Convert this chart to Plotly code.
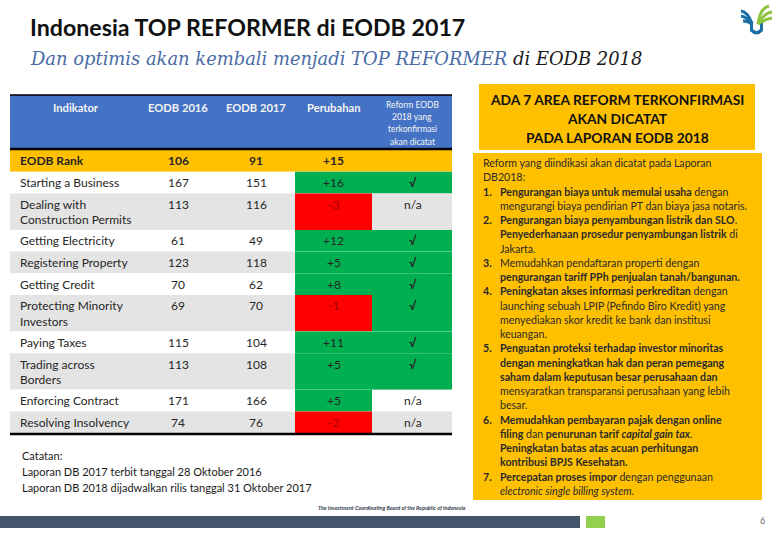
import plotly.graph_objects as go

# ---------------- data ----------------
indicators = ["EODB Rank", "Starting a Business", "Dealing with<br>Construction Permits",
              "Getting Electricity", "Registering Property", "Getting Credit",
              "Protecting Minority<br>Investors", "Paying Taxes", "Trading across<br>Borders",
              "Enforcing Contract", "Resolving Insolvency"]
eodb_2016 = [106, 167, 113, 61, 123, 70, 69, 115, 113, 171, 74]
eodb_2017 = [91, 151, 116, 49, 118, 62, 70, 104, 108, 166, 76]
perubahan = [15, 16, -3, 12, 5, 8, -1, 11, 5, 5, -2]
reform_2018 = ["", "√", "n/a", "√", "√", "√", "√", "√", "√", "n/a", "n/a"]
header_labels = ["Indikator", "EODB 2016", "EODB 2017", "Perubahan",
                 "Reform EODB<br>2018 yang<br>terkonfirmasi<br>akan dicatat"]

title_text = "Indonesia TOP REFORMER di EODB 2017"
subtitle_main = "Dan optimis akan kembali menjadi TOP REFORMER"
subtitle_tail = "di EODB 2018"

box_title = ["ADA 7 AREA REFORM TERKONFIRMASI", "AKAN DICATAT", "PADA LAPORAN EODB 2018"]
# (marker, text): marker None = not indented, "" = indented continuation
reform_lines = [
    (None, "Reform yang diindikasi akan dicatat pada Laporan"),
    (None, "DB2018:"),
    ("1.", "<b>Pengurangan biaya untuk memulai usaha</b> dengan"),
    ("", "mengurangi biaya pendirian PT dan biaya jasa notaris."),
    ("2.", "<b>Pengurangan biaya penyambungan listrik dan SLO</b>."),
    ("", "<b>Penyederhanaan prosedur penyambungan listrik</b> di"),
    ("", "Jakarta."),
    ("3.", "Memudahkan pendaftaran properti dengan"),
    ("", "<b>pengurangan tariff PPh penjualan tanah/bangunan.</b>"),
    ("4.", "<b>Peningkatan akses informasi perkreditan</b> dengan"),
    ("", "launching sebuah LPIP (Pefindo Biro Kredit) yang"),
    ("", "menyediakan skor kredit ke bank dan institusi"),
    ("", "keuangan."),
    ("5.", "<b>Penguatan proteksi terhadap investor minoritas</b>"),
    ("", "<b>dengan meningkatkan hak dan peran pemegang</b>"),
    ("", "<b>saham dalam keputusan besar perusahaan dan</b>"),
    ("", "mensyaratkan transparansi perusahaan yang lebih"),
    ("", "besar."),
    ("6.", "<b>Memudahkan pembayaran pajak dengan online</b>"),
    ("", "<b>filing</b> dan <b>penurunan tarif <i>capital gain tax</i></b>."),
    ("", "<b>Peningkatan batas atas acuan perhitungan</b>"),
    ("", "<b>kontribusi BPJS Kesehatan.</b>"),
    ("7.", "<b>Percepatan proses impor</b> dengan penggunaan"),
    ("", "<i>electronic single billing system</i>."),
]
catatan = ["Catatan:", "Laporan DB 2017 terbit tanggal 28 Oktober 2016",
           "Laporan DB 2018 dijadwalkan rilis tanggal 31 Oktober 2017"]
footer_text = "The Investment Coordinating Board of the Republic of Indonesia"
page_no = "6"

# ---------------- styles ----------------
FONT = "Lato"
BLUE = "#4472C4"
ORANGE = "#FFC000"
GREEN = "#00B050"
RED = "#FF0000"
GRAY = "#E4E4E4"
TXT = "#262626"

fig = go.Figure()
fig.add_trace(go.Scatter(x=[0, 780], y=[0, 540], mode="markers",
                         marker=dict(opacity=0), hoverinfo="skip", showlegend=False))


def rect(x0, x1, y0, y1, color):
    fig.add_shape(type="rect", x0=x0, x1=x1, y0=y0, y1=y1, fillcolor=color,
                  line_width=0, layer="below")


def text(x, y, s, size, color=TXT, anchor="center", family=FONT, weight=None):
    f = dict(family=family, size=size, color=color)
    if weight:
        f["weight"] = weight
    fig.add_annotation(x=x, y=y, text=s, showarrow=False, xanchor=anchor,
                       yanchor="middle", font=f)


# ---------------- table ----------------
T_LEFT, T_RIGHT = 10, 452
X_IND = 18
X_2016, X_2017 = 178, 256
PER = (295, 372)
REF = (372, 452)
HEAD_TOP, HEAD_BOT = 95, 149

rect(T_LEFT, T_RIGHT, HEAD_TOP, HEAD_BOT, BLUE)
fig.add_shape(type="line", x0=T_LEFT, x1=T_RIGHT, y0=HEAD_TOP, y1=HEAD_TOP,
              line=dict(color="black", width=1.5))
fig.add_shape(type="line", x0=T_LEFT, x1=T_RIGHT, y0=HEAD_BOT, y1=HEAD_BOT,
              line=dict(color="black", width=2.5))

head_x = [76, X_2016, X_2017, (PER[0] + PER[1]) / 2, (REF[0] + REF[1]) / 2]
for i, lab in enumerate(header_labels):
    lines = lab.split("<br>")
    if len(lines) == 1:
        text(head_x[i], 107, lab, 11.2, "#F4F4F4", weight="bold")
    else:
        for j, ln in enumerate(lines):
            text(head_x[i], 105 + j * 12.2, ln, 8.5, "#F4F4F4")

ROW_H, EXTRA = 21.7, 14.8
y = 150.0
for i, name in enumerate(indicators):
    nlines = name.count("<br>") + 1
    h = ROW_H + EXTRA * (nlines - 1)
    if i == 0:
        bg = ORANGE
    else:
        bg = "white" if i % 2 == 1 else GRAY
    rect(T_LEFT, T_RIGHT, y, y + h, bg)
    if i > 0:
        rect(PER[0], PER[1], y, y + h, GREEN if perubahan[i] > 0 else RED)
        if reform_2018[i] == "√":
            rect(REF[0], REF[1], y, y + h, GREEN)
    yt = y + 10.8
    bold = "bold" if i == 0 else None
    for j, ln in enumerate(name.split("<br>")):
        text(X_IND, yt + j * 15.3, ln, 12, TXT, anchor="left", weight=bold)
    text(X_2016, yt, str(eodb_2016[i]), 12, TXT, weight=bold)
    text(X_2017, yt, str(eodb_2017[i]), 12, TXT, weight=bold)
    pc = TXT if (i == 0 or perubahan[i] > 0) else "#A00000"
    text((PER[0] + PER[1]) / 2, yt, f"{perubahan[i]:+d}", 12, pc, weight=bold)
    if reform_2018[i]:
        rw = "bold" if reform_2018[i] == "√" else None
        text((REF[0] + REF[1]) / 2 + 1, yt, reform_2018[i], 12, TXT, weight=rw)
    y += h

fig.add_shape(type="line", x0=T_LEFT, x1=T_RIGHT, y0=y + 1, y1=y + 1,
              line=dict(color="black", width=2.5))

# ---------------- notes ----------------
for j, ln in enumerate(catatan):
    text(20, 455 + j * 16, ln, 11, "#1a1a1a", anchor="left")

# ---------------- title ----------------
text(28, 27, title_text, 23.2, "#111111", anchor="left", weight="bold")
fig.add_annotation(x=28, y=58, xanchor="left", yanchor="middle", showarrow=False,
                   text=f"<i>{subtitle_main}</i> <i><span style='color:#1a1a1a'>{subtitle_tail}</span></i>",
                   font=dict(family="DejaVu Serif", size=17.9, color="#4A6BA8"))

# ---------------- right boxes ----------------
rect(479, 755, 84, 150, ORANGE)
for j, ln in enumerate(box_title):
    text(617, 99 + j * 19, ln, 13.8, "#111111", weight="bold")

rect(473, 762, 153, 500, ORANGE)
LS = 14.26
for j, (mk, ln) in enumerate(reform_lines):
    yy = 163 + j * LS
    if mk is None:
        text(481, yy, ln, 10.6, "#2a2a2a", anchor="left")
    else:
        if mk:
            text(481, yy, f"<b>{mk}</b>", 10.6, "#2a2a2a", anchor="left")
        text(498, yy, ln, 10.6, "#2a2a2a", anchor="left")

# ---------------- footer ----------------
text(468, 508, f"<b><i>{footer_text}</i></b>", 5.5, "#2F3B4C", anchor="right")
rect(0, 580, 516, 528, "#44546A")
rect(586, 605, 516, 528, "#92D050")
text(762, 520, page_no, 9, "#666666")

# ---------------- logo ----------------
fig.add_shape(type="path",
              path="M 750 21 L 750 31 Q 756.5 38 763 31 L 763 21 L 760 21 L 760 29 Q 756.5 33 753 29 L 753 21 Z",
              fillcolor="#1B6EA6", line_width=0)
for (x0, y0, cx, cy) in [(741, 11, 748, 12), (741, 16, 747, 17), (743, 21, 748, 21)]:
    fig.add_shape(type="path", path=f"M {x0} {y0} Q {cx} {cy} 752 24",
                  line=dict(color="#1B6EA6", width=3))
for (x1, y1, cx, cy) in [(769, 6, 760, 8), (772, 12, 764, 13), (772, 18, 765, 19)]:
    fig.add_shape(type="path", path=f"M 758 24 Q {cx} {cy} {x1} {y1}",
                  line=dict(color="#8CC63F", width=3))

fig.update_layout(width=780, height=540, margin=dict(l=0, r=0, t=0, b=0),
                  paper_bgcolor="white", plot_bgcolor="white", showlegend=False,
                  xaxis=dict(range=[0, 780], visible=False, fixedrange=True),
                  yaxis=dict(range=[540, 0], visible=False, fixedrange=True))

fig.write_html("out.html", config={"displayModeBar": False},
               post_script="document.body.style.margin='0';document.body.style.overflow='hidden';")
